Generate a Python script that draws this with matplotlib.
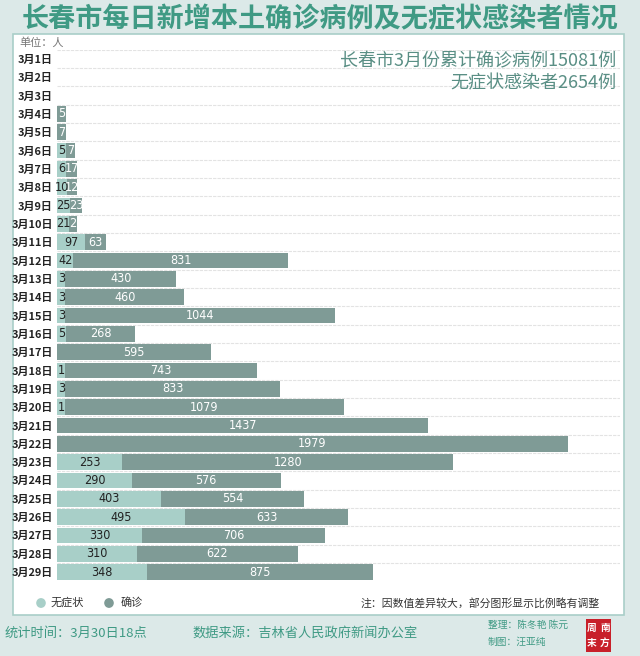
import numpy as np
import matplotlib
matplotlib.use("Agg")
import matplotlib.pyplot as plt
from matplotlib.patches import Rectangle, Circle
from matplotlib import font_manager

plt.rcParams['font.family'] = ['Noto Sans CJK SC', 'DejaVu Sans']

# data
dates = ["3月%d日" % d for d in range(1, 30)]
asym = [0, 0, 0, 0, 0, 5, 6, 10, 25, 21, 97, 42, 3, 3, 3, 5, 0, 1, 3, 1,
        0, 0, 253, 290, 403, 495, 330, 310, 348]
conf = [0, 0, 0, 5, 7, 7, 17, 12, 23, 2, 63, 831, 430, 460, 1044, 268, 595,
        743, 833, 1079, 1437, 1979, 1280, 576, 554, 633, 706, 622, 875]

BG = "#dce9e8"
C_ASYM = "#a8cfc8"
C_CONF = "#7f9b96"
TEAL = "#3f9a84"

# narrow face for the numbers if one is around
names = {f.name for f in font_manager.fontManager.ttflist}
if "Liberation Sans Narrow" in names:
    NUM_FONT, NUM_STRETCH = ['Liberation Sans Narrow'], "normal"
else:
    NUM_FONT, NUM_STRETCH = ['DejaVu Sans'], "condensed"

asym = np.array(asym)
conf = np.array(conf)

# small values get a stretched bar (see note on chart)
def shown(v):
    v = v.astype(float)
    return np.where(v > 0, np.maximum(v, 30 + 0.8 * v), 0)

asym_w = shown(asym)
conf_w = shown(conf)
y = np.arange(len(dates))

fig = plt.figure(figsize=(6.4, 6.56), dpi=100)
fig.patch.set_facecolor(BG)

# white panel
fig.patches.append(Rectangle((13/640, 1-615/656), 611/640, 581/656,
                             transform=fig.transFigure, facecolor="white",
                             edgecolor="#a9cec8", lw=1.2, zorder=-5))

ax = fig.add_axes([57/640, 1-581.2/656, 563/640, 531.4/656])
ax.set_zorder(1)
ax.set_facecolor("none")
ax.set_xlim(0, 2180)
ax.set_ylim(len(dates)-0.5, -0.5)

for k in range(len(dates)-1):
    ax.axhline(k-0.5, color="#e3e3e3", lw=0.8, ls=(0, (3, 1)), zorder=0)
ax.axhline(len(dates)-1.5, color="#e3e3e3", lw=0.8, ls=(0, (3, 1)), zorder=0)

ax.barh(y, asym_w, height=0.85, color=C_ASYM, zorder=2)
ax.barh(y, conf_w, left=asym_w, height=0.85, color=C_CONF, zorder=2)

for i in range(len(dates)):
    if asym[i] > 0:
        ax.text(asym_w[i]/2, i, str(asym[i]), ha="center", va="center",
                fontsize=9, color="#222222", family=NUM_FONT,
                fontstretch=NUM_STRETCH, zorder=3)
    if conf[i] > 0:
        ax.text(asym_w[i] + conf_w[i]/2, i, str(conf[i]), ha="center",
                va="center", fontsize=9, color="white", family=NUM_FONT,
                fontstretch=NUM_STRETCH, zorder=3)

ax.set_yticks(y)
ax.set_yticklabels(dates, fontsize=7.9, fontweight="bold", color="#222222")
ax.tick_params(axis="y", length=0, pad=3)
ax.set_xticks([])
for s in ax.spines.values():
    s.set_visible(False)

# title and notes
fig.text(0.5, 1-19/656, "长春市每日新增本土确诊病例及无症状感染者情况",
         ha="center", va="center", fontsize=19.5, fontweight="bold", color=TEAL)
fig.text(19/640, 1-43/656, "单位：人", ha="left", va="center",
         fontsize=8, color="#777777")
fig.text(616/640, 1-61/656, "长春市3月份累计确诊病例%d例" % conf.sum(),
         ha="right", va="center", fontsize=13, color="#5a8f85")
fig.text(616/640, 1-83/656, "无症状感染者%d例" % asym.sum(),
         ha="right", va="center", fontsize=13, color="#5a8f85")

# legend
fig.patches.append(Circle((41/640, 1-603/656), 0.0075, transform=fig.transFigure,
                          facecolor=C_ASYM, edgecolor="none"))
fig.text(51/640, 1-603/656, "无症状", ha="left", va="center", fontsize=8, color="#333333")
fig.patches.append(Circle((109/640, 1-603/656), 0.0075, transform=fig.transFigure,
                          facecolor=C_CONF, edgecolor="none"))
fig.text(121/640, 1-603/656, "确诊", ha="left", va="center", fontsize=8, color="#333333")
fig.text(600/640, 1-603/656, "注：因数值差异较大，部分图形显示比例略有调整",
         ha="right", va="center", fontsize=7.8, color="#333333")

# footer
fig.text(5/640, 1-633/656, "统计时间：3月30日18点", ha="left", va="center",
         fontsize=9.5, color=TEAL)
fig.text(192/640, 1-633/656, "数据来源：吉林省人民政府新闻办公室", ha="left",
         va="center", fontsize=9.5, color=TEAL)
fig.text(488/640, 1-625/656, "整理：陈冬艳 陈元", ha="left", va="center",
         fontsize=7, color=TEAL)
fig.text(488/640, 1-642/656, "制图：汪亚纯", ha="left", va="center",
         fontsize=7, color=TEAL)

# logo
fig.patches.append(Rectangle((586/640, 1-652/656), 25/640, 33/656,
                             transform=fig.transFigure, facecolor="#c8202a",
                             edgecolor="none"))
for ch, xx, yy in [("周", 592, 628), ("南", 605, 628), ("末", 592, 643), ("方", 605, 643)]:
    fig.text(xx/640, 1-yy/656, ch, ha="center", va="center", fontsize=7,
             color="white", fontweight="bold")

fig.savefig("out.png", dpi=100, facecolor=BG)
